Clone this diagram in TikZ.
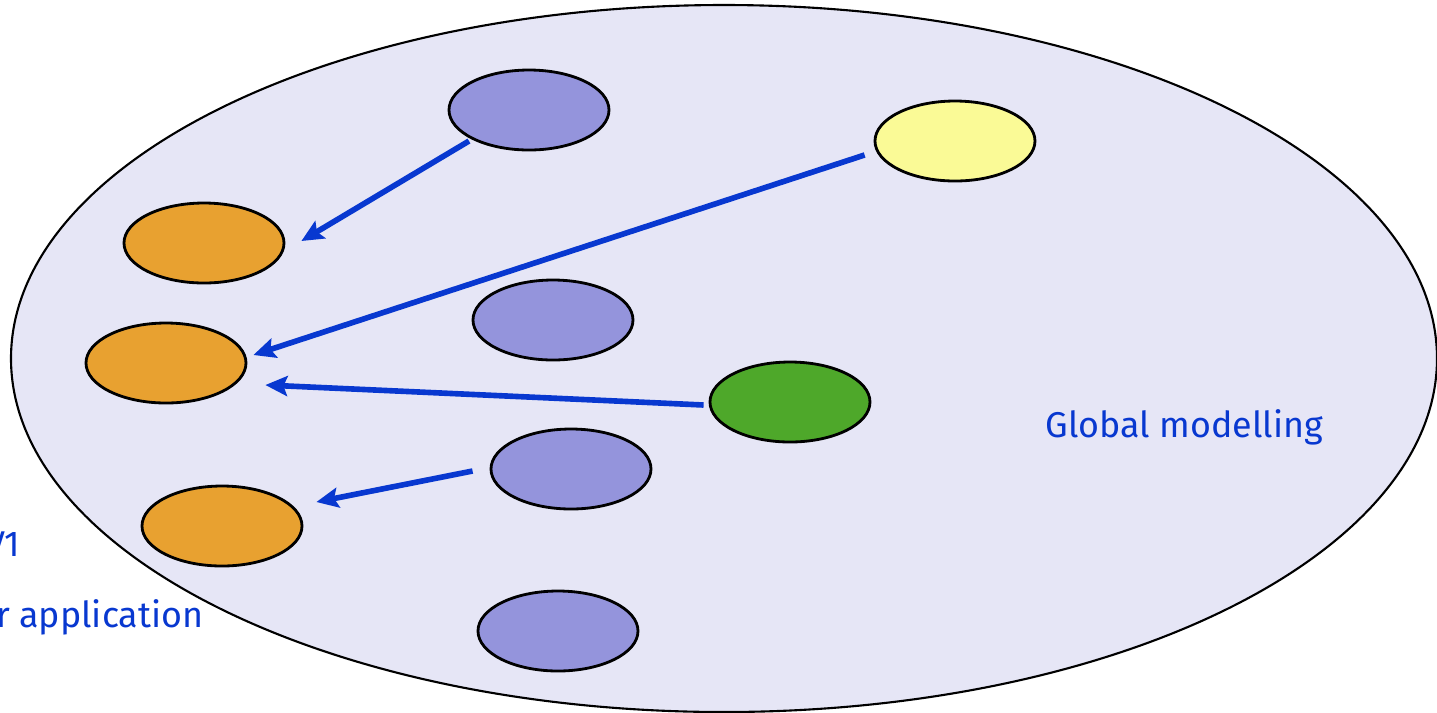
\documentclass[tikz,border=0pt]{standalone}
\usepackage{fontspec}
\setmainfont{Fira Sans}
\usetikzlibrary{arrows.meta,shapes.geometric,calc}
\definecolor{bgfill}{RGB}{230,230,246}
\definecolor{lilac}{RGB}{148,148,220}
\definecolor{pale}{RGB}{250,250,150}
\definecolor{amber}{RGB}{232,161,48}
\definecolor{leaf}{RGB}{78,168,42}
\definecolor{ink}{RGB}{8,56,208}
\tikzset{
  blob/.style={ellipse,draw=black,line width=0.8pt,minimum width=1.6cm,minimum height=0.8cm,inner sep=0pt},
  link/.style={draw=ink,line width=1.6pt,-{Stealth[length=0.22cm,width=0.2cm,inset=0.04cm]}},
  lbl/.style={text=ink,font=\fontsize{10.2pt}{13pt}\selectfont,inner sep=0pt}
}
\begin{document}
\begin{tikzpicture}
\useasboundingbox (0,0) rectangle (14.37,-7.12);
\clip (0,0) rectangle (14.37,-7.12);
% outer domain
\node[ellipse,draw=black,line width=0.6pt,fill=bgfill,minimum width=14.26cm,minimum height=7.07cm,inner sep=0pt] (world) at (7.24,-3.585) {};
% components
\node[blob,fill=lilac] (p1) at (5.29,-1.10) {};
\node[blob,fill=pale]  (y1) at (9.55,-1.41) {};
\node[blob,fill=amber] (o1) at (2.04,-2.43) {};
\node[blob,fill=lilac] (p2) at (5.53,-3.20) {};
\node[blob,fill=amber] (o2) at (1.66,-3.63) {};
\node[blob,fill=leaf]  (g1) at (7.90,-4.02) {};
\node[blob,fill=lilac] (p3) at (5.71,-4.69) {};
\node[blob,fill=amber] (o3) at (2.22,-5.26) {};
\node[blob,fill=lilac] (p4) at (5.58,-6.31) {};
% couplings
\draw[link] ([shift={(-0.60,-0.31)}]p1.center) -- ([shift={(0.16,0.02)}]o1.east);
\draw[link] ([shift={(-0.09,-0.14)}]y1.west) -- ([shift={(0.06,0.08)}]o2.east);
\draw[link] ([shift={(-0.05,-0.03)}]g1.west) -- ([shift={(0.18,-0.22)}]o2.east);
\draw[link] ([shift={(-0.17,-0.02)}]p3.west) -- ([shift={(0.13,0.24)}]o3.east);
% labels
\node[lbl,anchor=base west] (gm) at (10.45,-4.37) {Global modelling};
\node[lbl,anchor=base east] (v1) at (0.21,-5.56) {V1};
\node[lbl,anchor=base east] (ap) at (2.04,-6.27) {for application};
\end{tikzpicture}
\end{document}
